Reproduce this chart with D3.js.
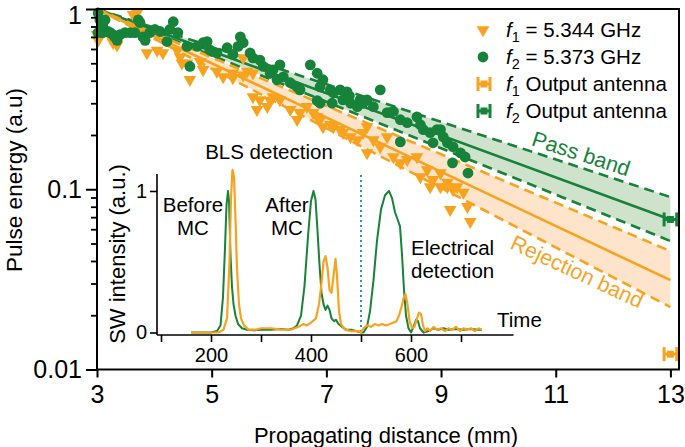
<!DOCTYPE html>
<html><head><meta charset="utf-8">
<script src="https://cdn.jsdelivr.net/npm/d3@7"></script>
<style>
body{margin:0;background:#fff}
svg{display:block;font-family:"Liberation Sans",Arial,Helvetica,sans-serif}
</style>
</head><body>
<svg id="c" width="685" height="447"></svg>
<script>
// ---------- data ----------
const xTicks = [3, 5, 7, 9, 11, 13];
const yTicks = [1, 0.1, 0.01];
const yTickLabels = ["1", "0.1", "0.01"];

const greenPoints = [[3.02,0.95],[3.05,0.87],[3.14,0.87],[3.10,0.815],[3.02,0.74],[3.10,0.74],[3.19,0.75],[3.23,0.74],[3.28,0.72],[3.31,0.70],[3.35,0.67],[3.40,0.72],[3.49,0.74],[3.58,0.74],[3.66,0.74],[3.72,0.87],[3.75,0.84],[3.80,0.70],[3.84,0.67],[3.92,0.74],[4.01,0.77],[4.10,0.75],[4.22,0.66],[4.27,0.77],[4.33,0.85],[4.41,0.74],[4.57,0.62],[4.62,0.48],[4.75,0.62],[4.85,0.65],[4.92,0.66],[4.97,0.59],[5.02,0.58],[5.09,0.57],[5.27,0.61],[5.37,0.56],[5.46,0.62],[5.50,0.70],[5.55,0.65],[5.67,0.57],[5.72,0.535],[5.84,0.52],[5.90,0.48],[6.02,0.44],[6.07,0.46],[6.14,0.405],[6.19,0.49],[6.25,0.42],[6.37,0.39],[6.49,0.37],[6.54,0.356],[6.72,0.49],[6.84,0.44],[6.84,0.31],[6.89,0.37],[6.89,0.30],[6.94,0.405],[7.07,0.356],[7.10,0.30],[7.12,0.343],[7.24,0.356],[7.29,0.313],[7.36,0.347],[7.40,0.33],[7.42,0.30],[7.54,0.287],[7.59,0.313],[7.64,0.30],[7.71,0.313],[7.82,0.287],[7.94,0.356],[8.06,0.266],[8.11,0.266],[8.17,0.27],[8.29,0.243],[8.29,0.183],[8.41,0.234],[8.58,0.252],[8.64,0.228],[8.69,0.214],[8.81,0.206],[8.86,0.181],[8.93,0.214],[8.99,0.214],[9.04,0.195],[9.11,0.181],[9.21,0.172],[9.34,0.159],[9.42,0.151],[9.20,0.140],[9.47,0.123]];

const orangePoints = [[3.00,0.72],[3.02,0.67],[3.05,0.70],[3.23,0.70],[3.28,0.65],[3.35,0.63],[3.63,0.93],[3.70,0.95],[3.87,0.57],[4.05,0.59],[4.15,0.57],[4.40,0.59],[4.45,0.54],[4.48,0.50],[4.57,0.50],[4.62,0.405],[4.80,0.51],[4.85,0.46],[5.09,0.45],[5.20,0.42],[5.37,0.415],[5.37,0.44],[5.55,0.535],[5.55,0.43],[5.62,0.45],[5.72,0.44],[5.72,0.325],[5.79,0.276],[5.84,0.313],[5.97,0.287],[6.02,0.31],[6.07,0.325],[6.19,0.313],[6.37,0.276],[6.49,0.243],[6.54,0.266],[6.66,0.287],[6.77,0.266],[6.84,0.252],[6.89,0.243],[6.94,0.222],[7.07,0.228],[7.12,0.222],[7.24,0.214],[7.29,0.206],[7.42,0.195],[7.54,0.188],[7.64,0.206],[7.71,0.159],[7.71,0.222],[7.82,0.188],[7.94,0.172],[8.06,0.195],[8.17,0.151],[8.29,0.140],[8.41,0.146],[8.58,0.151],[8.64,0.117],[8.76,0.128],[8.81,0.103],[8.86,0.113],[8.99,0.123],[8.99,0.103],[9.11,0.109],[9.11,0.103],[9.16,0.077],[9.21,0.0995],[9.28,0.103],[9.39,0.096],[9.46,0.080],[9.51,0.066]];

// fit lines: values at distance 3 mm and 13 mm
const fitDistance = [3, 13];
const passCenter = [1, 0.068];
const passUpper  = [1, 0.0905];
const passLower  = [1, 0.0516];
const rejCenter  = [1, 0.0313];
const rejUpper   = [1, 0.0454];
const rejLower   = [1, 0.0222];

// output antenna points
const antennaDistance = 13;
const antennaErr = 0.11;
const antennaF1 = 0.01217;
const antennaF2 = 0.068;

// inset traces [time, intensity]
const insetXTicks = [100, 200, 300, 400, 500, 600, 700];
const insetXLabels = [200, 400, 600];
const insetYTicks = [0, 1];
const markerTime = 500;

const greenTrace = [[160,0],[200,0],[212,0.01],[219,0.05],[224,0.25],[228,0.6],[231,0.9],[234,1.0],[236,0.93],[239,0.55],[242,0.32],[245,0.2],[249,0.12],[254,0.06],[262,0.03],[272,0.02],[285,0.015],[300,0.02],[320,0.02],[340,0.025],[355,0.02],[365,0.03],[372,0.05],[380,0.12],[387,0.33],[394,0.68],[400,0.93],[405,1.0],[409,0.94],[413,0.72],[417,0.48],[421,0.28],[425,0.2],[429,0.16],[433,0.19],[437,0.16],[441,0.1],[446,0.08],[450,0.09],[455,0.06],[462,0.04],[470,0.02],[480,0.02],[490,0.01],[500,0.0],[505,0.0],[512,0.04],[518,0.15],[525,0.37],[532,0.65],[540,0.87],[548,0.97],[556,1.0],[562,0.95],[568,0.85],[573,0.8],[578,0.75],[582,0.55],[586,0.3],[590,0.12],[595,0.03],[600,0.0],[605,0.04],[610,0.09],[614,0.08],[618,0.03],[625,0.0],[635,0.01],[645,0.03],[655,0.02],[665,0.03],[675,0.02],[690,0.025],[705,0.02],[720,0.025],[735,0.02],[742,0.02]];

const orangeTrace = [[160,0],[200,0],[215,0],[225,0.02],[232,0.1],[237,0.5],[240,0.95],[243,1.15],[246,1.1],[249,0.8],[252,0.45],[256,0.2],[260,0.1],[266,0.05],[275,0.02],[290,0.02],[300,0.03],[320,0.03],[340,0.02],[360,0.02],[375,0.04],[385,0.06],[392,0.05],[400,0.07],[410,0.1],[416,0.2],[421,0.35],[425,0.5],[429,0.54],[433,0.46],[437,0.3],[441,0.28],[445,0.4],[449,0.52],[452,0.4],[456,0.15],[460,0.06],[468,0.02],[480,0.01],[495,0.01],[500,0.0],[505,0.03],[512,0.05],[520,0.04],[528,0.06],[535,0.05],[542,0.06],[550,0.05],[558,0.06],[565,0.07],[571,0.08],[576,0.12],[581,0.18],[585,0.24],[589,0.27],[593,0.2],[597,0.08],[602,0.03],[607,0.04],[612,0.1],[616,0.14],[620,0.13],[624,0.05],[628,0.01],[633,0.03],[638,0.01],[645,0.04],[652,0.02],[660,0.03],[668,0.01],[675,0.03],[683,0.02],[690,0.04],[698,0.01],[705,0.03],[712,0.02],[720,0.03],[728,0.01],[735,0.03],[742,0.02]];

// ---------- drawing ----------
const GREEN = "#178239", ORANGE = "#f8a31f";
const svg = d3.select("#c");
const L = 97, R = 679, T = 9, B = 369.5;
const x = d3.scaleLinear().domain([3, 13.15]).range([L, R]);
const y = d3.scaleLog().domain([0.01, 1]).range([B, T]);

// bands
function band(up, lo, fill) {
  const a = d3.area().x(d => x(d[0])).y0(d => y(d[2])).y1(d => y(d[1]));
  svg.append("path")
    .datum(fitDistance.map((d, i) => [d, up[i], lo[i]]))
    .attr("d", a).attr("fill", fill);
}
band(passUpper, passLower, "#cfe2cc");
band(rejUpper, rejLower, "#fde4cb");

// fit lines
const ln = d3.line().x(d => x(d[0])).y(d => y(d[1]));
function fit(vals, color, dashed) {
  svg.append("path").datum(fitDistance.map((d, i) => [d, vals[i]]))
    .attr("d", ln).attr("fill", "none").attr("stroke", color)
    .attr("stroke-width", 2.6)
    .attr("stroke-dasharray", dashed ? "10,6" : null);
}
fit(passUpper, GREEN, true); fit(passLower, GREEN, true); fit(passCenter, GREEN, false);
fit(rejUpper, ORANGE, true); fit(rejLower, ORANGE, true); fit(rejCenter, ORANGE, false);

// points
const tri = d3.symbol().type(d3.symbolTriangle).size(70);
svg.append("g").selectAll("path").data(orangePoints).join("path")
  .attr("d", tri)
  .attr("transform", d => `translate(${x(d[0])},${y(d[1])}) rotate(180)`)
  .attr("fill", ORANGE);
svg.append("g").selectAll("circle").data(greenPoints).join("circle")
  .attr("cx", d => x(d[0])).attr("cy", d => y(d[1])).attr("r", 5.4)
  .attr("fill", GREEN);

// error bars
function errBar(cx, cy, color, half) {
  const g = svg.append("g").attr("stroke", color).attr("stroke-width", 3);
  g.append("line").attr("x1", cx - half).attr("x2", cx + half).attr("y1", cy).attr("y2", cy);
  g.append("line").attr("x1", cx - half).attr("x2", cx - half).attr("y1", cy - 7).attr("y2", cy + 7);
  g.append("line").attr("x1", cx + half).attr("x2", cx + half).attr("y1", cy - 7).attr("y2", cy + 7);
  svg.append("rect").attr("x", cx - 3.5).attr("y", cy - 3.5).attr("width", 7).attr("height", 7).attr("fill", color);
}
const halfPx = x(antennaDistance + antennaErr) - x(antennaDistance);
errBar(x(antennaDistance), y(antennaF2), GREEN, halfPx);
errBar(x(antennaDistance), y(antennaF1), ORANGE, halfPx);

// frame
svg.append("rect").attr("x", L).attr("y", T).attr("width", R - L).attr("height", B - T)
  .attr("fill", "none").attr("stroke", "#000").attr("stroke-width", 2);

// x axis
const xa = svg.append("g").attr("transform", `translate(0,${B})`)
  .call(d3.axisBottom(x).tickValues(xTicks).tickSize(8).tickPadding(8).tickFormat(d3.format("d")));
xa.select(".domain").remove();
xa.selectAll("line").attr("stroke-width", 2);
xa.selectAll("text").attr("font-size", 25).attr("fill", "#000").attr("font-family", null);

// y axis (log)
const minor = [];
[0.01, 0.1].forEach(dec => { for (let k = 2; k <= 9; k++) minor.push(dec * k); });
svg.append("g").attr("transform", `translate(${L},0)`)
  .call(d3.axisLeft(y).tickValues(minor).tickSize(6).tickFormat(""))
  .call(g => g.select(".domain").remove())
  .selectAll("line").attr("stroke-width", 1.8);
const ya = svg.append("g").attr("transform", `translate(${L},0)`)
  .call(d3.axisLeft(y).tickValues(yTicks).tickSize(11).tickPadding(4)
    .tickFormat((d, i) => yTickLabels[i]));
ya.select(".domain").remove();
ya.selectAll("line").attr("stroke-width", 2);
ya.selectAll("text").attr("font-size", 25).attr("fill", "#000").attr("font-family", null)
  .attr("dy", d => d === 1 ? "0.57em" : "0.32em");

// axis titles
svg.append("text").attr("x", 386).attr("y", 443).attr("text-anchor", "middle")
  .attr("font-size", 22).text("Propagating distance (mm)");
svg.append("text").attr("transform", "translate(22,180) rotate(-90)").attr("text-anchor", "middle")
  .attr("font-size", 22.5).text("Pulse energy (a.u)");

// band labels
svg.append("text").attr("transform", "translate(581,154) rotate(18)")
  .attr("text-anchor", "middle").attr("dominant-baseline", "central")
  .attr("font-size", 21.5).attr("fill", GREEN).text("Pass band");
svg.append("text").attr("transform", "translate(577,272) rotate(25)")
  .attr("text-anchor", "middle").attr("dominant-baseline", "central")
  .attr("font-size", 21.5).attr("fill", ORANGE).text("Rejection band");

// legend
const lg = svg.append("g").attr("font-size", 20.5);
function fLabel(yb, sub, rest) {
  const t = lg.append("text").attr("x", 506).attr("y", yb);
  t.append("tspan").attr("font-style", "italic").text("f");
  t.append("tspan").attr("font-size", 14.5).attr("dy", 5).text(sub);
  t.append("tspan").attr("dy", -5).text(rest);
}
lg.append("path").attr("d", tri).attr("transform", "translate(483,30) rotate(180)").attr("fill", ORANGE);
fLabel(37, "1", " = 5.344 GHz");
lg.append("circle").attr("cx", 483).attr("cy", 57).attr("r", 5.4).attr("fill", GREEN);
fLabel(64, "2", " = 5.373 GHz");
errBar(484, 84, ORANGE, 6);
fLabel(91, "1", " Output antenna");
errBar(484, 111, GREEN, 6);
fLabel(118, "2", " Output antenna");

// ---------- inset ----------
const ix = d3.scaleLinear().domain([92, 805]).range([157, 513.5]);
const iy = d3.scaleLinear().domain([-0.0177, 1.12]).range([335, 174]);
const iline = d3.line().x(d => ix(d[0])).y(d => iy(d[1]));

svg.append("line").attr("x1", ix(markerTime)).attr("x2", ix(markerTime))
  .attr("y1", 175).attr("y2", iy(0)).attr("stroke", "#3b86cf")
  .attr("stroke-width", 2).attr("stroke-dasharray", "2,3");

svg.append("path").datum(greenTrace).attr("d", iline).attr("fill", "none")
  .attr("stroke", GREEN).attr("stroke-width", 2).attr("stroke-linejoin", "round");
svg.append("path").datum(orangeTrace).attr("d", iline).attr("fill", "none")
  .attr("stroke", ORANGE).attr("stroke-width", 2.2).attr("stroke-linejoin", "round");

const ixa = svg.append("g").attr("transform", "translate(0,335)")
  .call(d3.axisBottom(ix).tickValues(insetXTicks).tickSize(7).tickPadding(6)
    .tickFormat(d => insetXLabels.includes(d) ? d : ""));
ixa.select(".domain").attr("d", `M${ix(92)},0H${ix(805)}`).attr("stroke-width", 1.6);
ixa.selectAll("line").attr("stroke-width", 1.6);
ixa.selectAll("text").attr("font-size", 20).attr("fill", "#000").attr("font-family", null);

const iya = svg.append("g").attr("transform", "translate(157,0)")
  .call(d3.axisLeft(iy).tickValues(insetYTicks).tickSize(7).tickPadding(3).tickFormat(d3.format("d")));
iya.select(".domain").attr("d", "M0,174V335").attr("stroke-width", 1.6);
iya.selectAll("line").attr("stroke-width", 1.6);
iya.selectAll("text").attr("font-size", 20).attr("fill", "#000").attr("font-family", null);

svg.append("text").attr("transform", "translate(125,254) rotate(-90)").attr("text-anchor", "middle")
  .attr("font-size", 22).text("SW intensity (a.u.)");

const it = svg.append("g").attr("font-size", 20.5);
it.append("text").attr("x", 269).attr("y", 159).attr("text-anchor", "middle").text("BLS detection");
it.append("text").attr("x", 193).attr("y", 212).attr("text-anchor", "middle").text("Before");
it.append("text").attr("x", 193).attr("y", 235).attr("text-anchor", "middle").text("MC");
it.append("text").attr("x", 287).attr("y", 212).attr("text-anchor", "middle").text("After");
it.append("text").attr("x", 287).attr("y", 235).attr("text-anchor", "middle").text("MC");
it.append("text").attr("x", 411).attr("y", 255).text("Electrical");
it.append("text").attr("x", 411).attr("y", 278).text("detection");
it.append("text").attr("x", 497).attr("y", 327).text("Time");
</script>
</body></html>
